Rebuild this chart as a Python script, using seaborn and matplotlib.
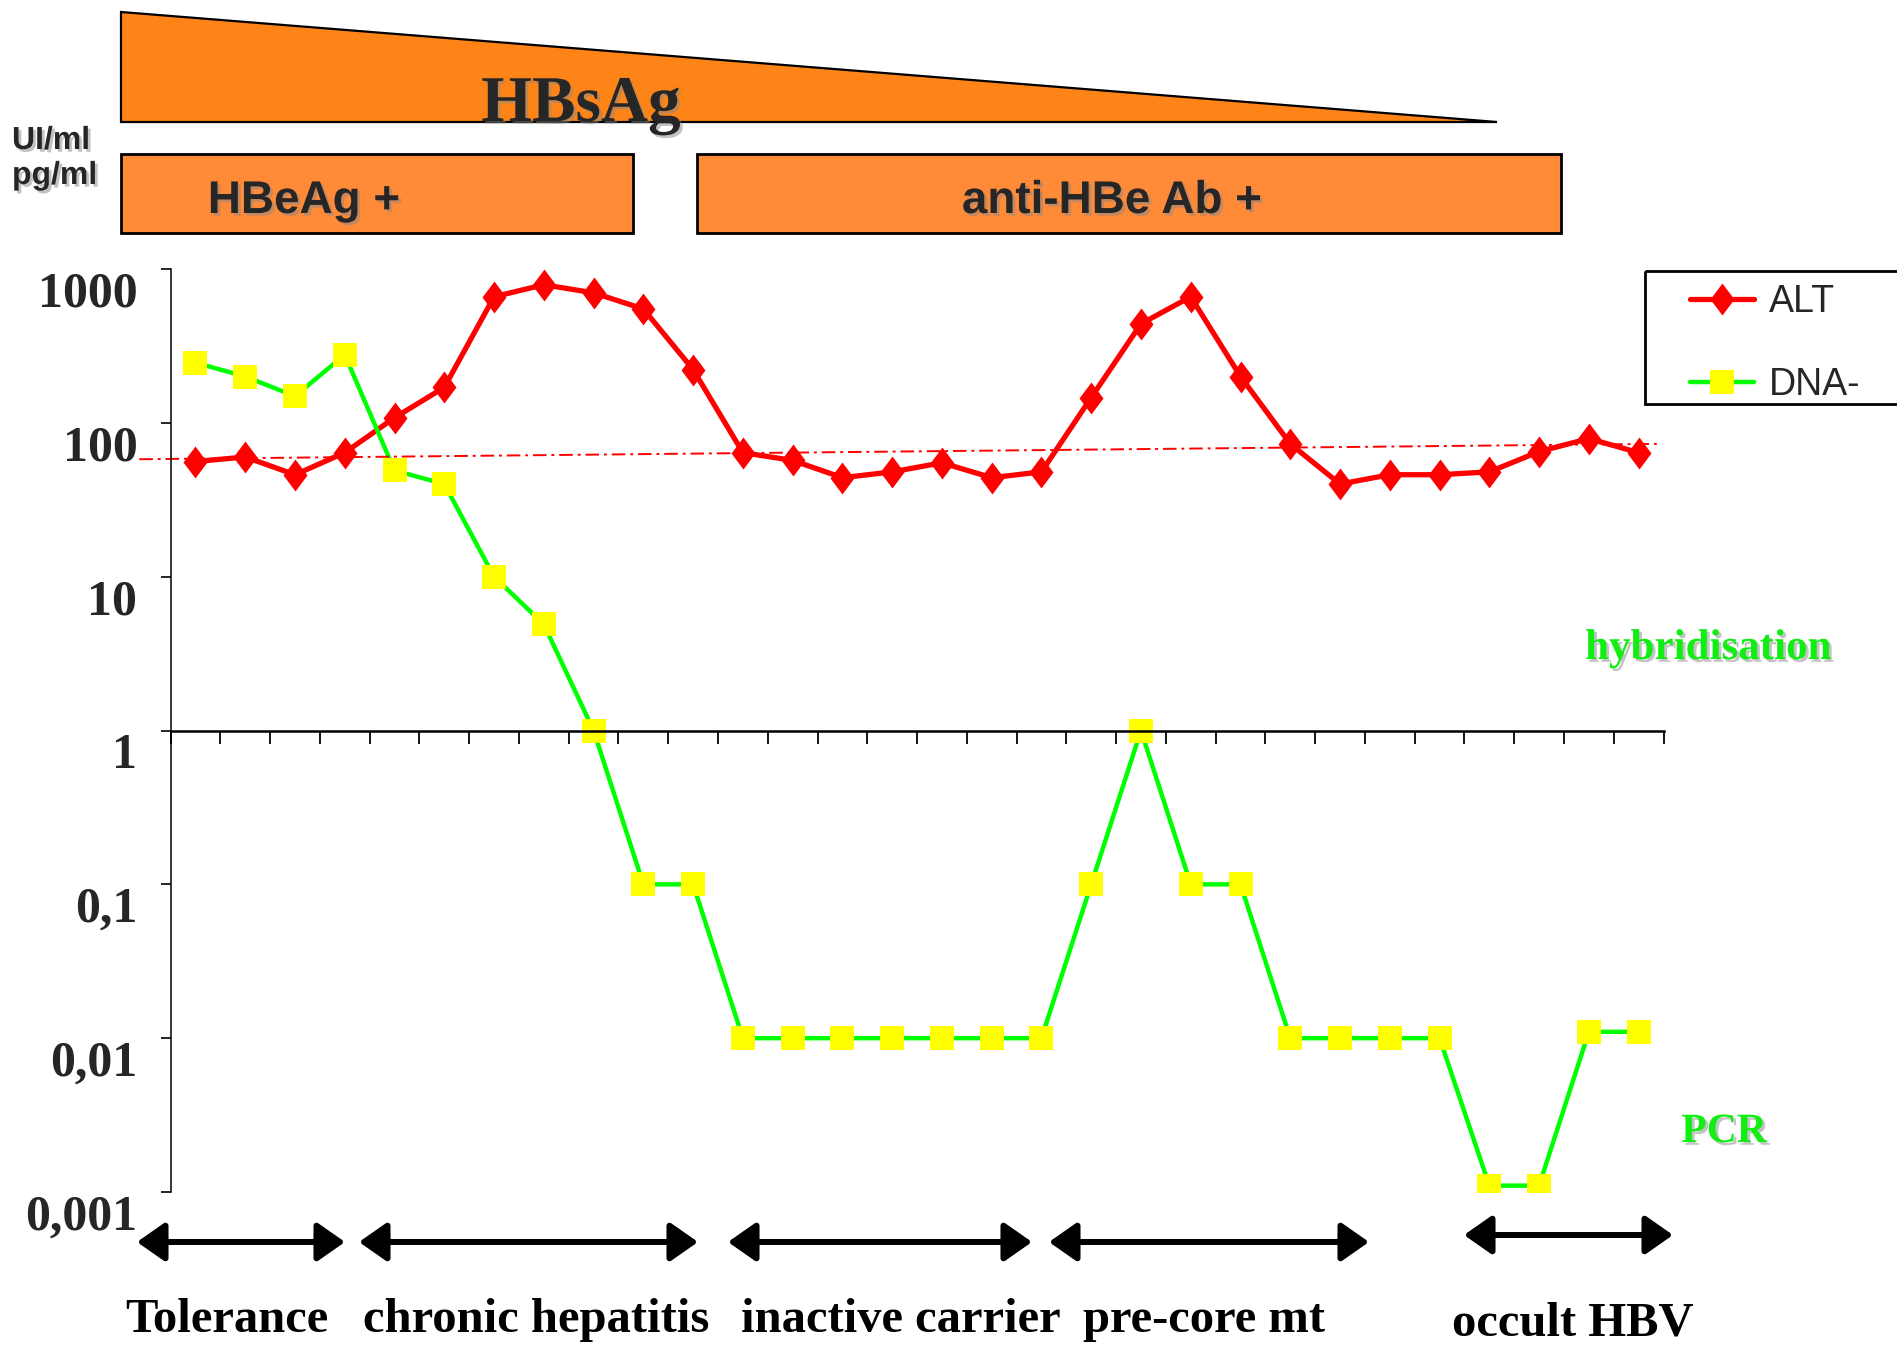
import numpy as np
import pandas as pd
import matplotlib
matplotlib.use("Agg")
import matplotlib.pyplot as plt
import matplotlib.patches as mpatches
import matplotlib.patheffects as pe
from matplotlib.ticker import NullLocator
from matplotlib.transforms import ScaledTranslation
import seaborn as sns

# data
visits = list(range(1, 31))
alt = [56, 60, 46, 64, 108, 170, 660, 790, 700, 550, 222, 64, 57, 44, 48,
       55, 44, 48, 146, 440, 660, 200, 73, 40, 46, 46, 48, 65, 79, 64]
dna = [246, 200, 149, 277, 49, 40, 10, 4.9, 1, 0.1, 0.1, 0.01, 0.01, 0.01, 0.01,
       0.01, 0.01, 0.01, 0.1, 1, 0.1, 0.1, 0.01, 0.01, 0.01, 0.01, 0.0011, 0.0011, 0.011, 0.011]
uln = [58, 73]  # dash-dot reference line, start / end value
ytick_vals = [0.001, 0.01, 0.1, 1, 10, 100, 1000]
ytick_labels = ["0,001", "0,01", "0,1", "1", "10", "100", "1000"]
phases = ["Tolerance", "chronic hepatitis", "inactive carrier", "pre-core mt", "occult HBV"]

sns.set_theme(style="white")
plt.rcParams["font.family"] = ["Liberation Serif", "DejaVu Serif"]

W, H = 1897, 1346
fig = plt.figure(figsize=(W / 100, H / 100), dpi=100)
fig.patch.set_facecolor("white")

ax = fig.add_axes([170.6 / W, 1 - 1192 / H, (1663.5 - 170.6) / W, (1192 - 269) / H])
ax.set_facecolor("none")

df = pd.DataFrame({"visit": visits, "ALT": alt, "DNA-": dna})
diamond = [(0, 1), (0.75, 0), (0, -1), (-0.75, 0)]

sns.lineplot(data=df, x="visit", y="ALT", ax=ax, color="#ff0000", lw=3.8,
             marker=diamond, markersize=23, markerfacecolor="#ff0000",
             markeredgewidth=0, label="ALT")
sns.lineplot(data=df, x="visit", y="DNA-", ax=ax, color="#00ff00", lw=3.2,
             marker="s", markersize=17.5, markerfacecolor="#ffff00",
             markeredgewidth=0, label="DNA-")

# upper limit of normal
ax.plot([-0.13, 30.38], uln, color="#ff0000", lw=1.4, ls=(0, (7, 2.5, 1.5, 2.5)), clip_on=False)

ax.set_yscale("log")
ax.set_ylim(0.001, 1000)
ax.set_xlim(0.5, 30.5)
ax.set_xlabel("")
ax.set_ylabel("")

for s in ["top", "right"]:
    ax.spines[s].set_visible(False)
ax.spines["bottom"].set_position(("data", 1))
ax.spines["bottom"].set_linewidth(1.8)
ax.spines["bottom"].set_color("black")
ax.spines["left"].set_linewidth(1.1)
ax.spines["left"].set_color("black")

ax.set_xticks(np.arange(0.5, 31, 1))
ax.tick_params(axis="x", direction="out", length=9, width=1.3, color="black",
               bottom=True, labelbottom=False)
ax.set_yticks(ytick_vals, ytick_labels)
ax.yaxis.set_minor_locator(NullLocator())
ax.tick_params(axis="y", direction="out", length=7, width=1.2, color="black",
               left=True, pad=17, labelsize=36)
for lab in ax.get_yticklabels():
    lab.set_fontweight("bold")
    lab.set_transform(lab.get_transform() + ScaledTranslation(0, -0.2, fig.dpi_scale_trans))

handles, labels = ax.get_legend_handles_labels()
ax.get_legend().remove()
leg = fig.legend(handles, labels, loc="upper left",
                 bbox_to_anchor=(1690 / W, 1 - 284 / H), bbox_transform=fig.transFigure,
                 frameon=False, borderpad=0, borderaxespad=0,
                 labelspacing=1.25, handlelength=1.7, handletextpad=0.4,
                 prop=dict(family="Liberation Sans", size=27))

# overlay in pixel coords for the annotations around the chart
ov = fig.add_axes([0, 0, 1, 1], zorder=3)
ov.set_xlim(0, W)
ov.set_ylim(H, 0)
ov.axis("off")
ov.patch.set_alpha(0)

# legend frame, running off the right edge as in the original slide
ov.add_patch(mpatches.Rectangle((1645, 271), 300, 133, fc="none", ec="black", lw=2, clip_on=False))

shadow = [pe.SimplePatchShadow(offset=(2, -2), shadow_rgbFace="#888888", alpha=0.5), pe.Normal()]

ov.add_patch(mpatches.Polygon([(121, 12), (121, 122), (1497, 122)], closed=True,
                              fc="#ff8417", ec="black", lw=1.6))
ov.add_patch(mpatches.Rectangle((121, 154), 512, 79, fc="#ff8a38", ec="black", lw=2))
ov.add_patch(mpatches.Rectangle((697, 154), 864, 79, fc="#ff8a38", ec="black", lw=2))

ov.text(581, 121, "HBsAg", ha="center", va="baseline", fontsize=47, fontweight="bold",
        family="Liberation Serif", path_effects=shadow)
ov.text(304, 213, "HBeAg +", ha="center", va="baseline", fontsize=33, fontweight="bold",
        family="Liberation Sans", path_effects=shadow)
ov.text(1112, 213, "anti-HBe Ab +", ha="center", va="baseline", fontsize=33, fontweight="bold",
        family="Liberation Sans", path_effects=shadow)
ov.text(12, 149, "UI/ml", ha="left", va="baseline", fontsize=23, fontweight="bold",
        family="Liberation Sans", path_effects=shadow)
ov.text(12, 184, "pg/ml", ha="left", va="baseline", fontsize=23, fontweight="bold",
        family="Liberation Sans", path_effects=shadow)

ov.text(1708, 659, "hybridisation", ha="center", va="baseline", fontsize=31, fontweight="bold",
        color="#11ee11", path_effects=shadow)
ov.text(1724, 1142, "PCR", ha="center", va="baseline", fontsize=30, fontweight="bold",
        color="#11ee11", path_effects=shadow)

# phase arrows and labels
arrow_spans = [(137, 345, 1242), (359, 698, 1242), (728, 1032, 1242),
               (1049, 1369, 1242), (1464, 1673, 1235)]
label_pos = [(227, 1332), (536, 1332), (901, 1332), (1204, 1332), (1573, 1335)]
for (x0, x1, y), (lx, ly), name in zip(arrow_spans, label_pos, phases):
    ov.annotate("", xy=(x1, y), xytext=(x0, y),
                arrowprops=dict(arrowstyle="<|-|>,head_length=0.4,head_width=0.28",
                                lw=4.3, color="black", mutation_scale=42,
                                shrinkA=0, shrinkB=0))
    ov.text(lx, ly, name, ha="center", va="baseline", fontsize=35, fontweight="bold",
            color="black")

fig.savefig("out.png", dpi=100)
